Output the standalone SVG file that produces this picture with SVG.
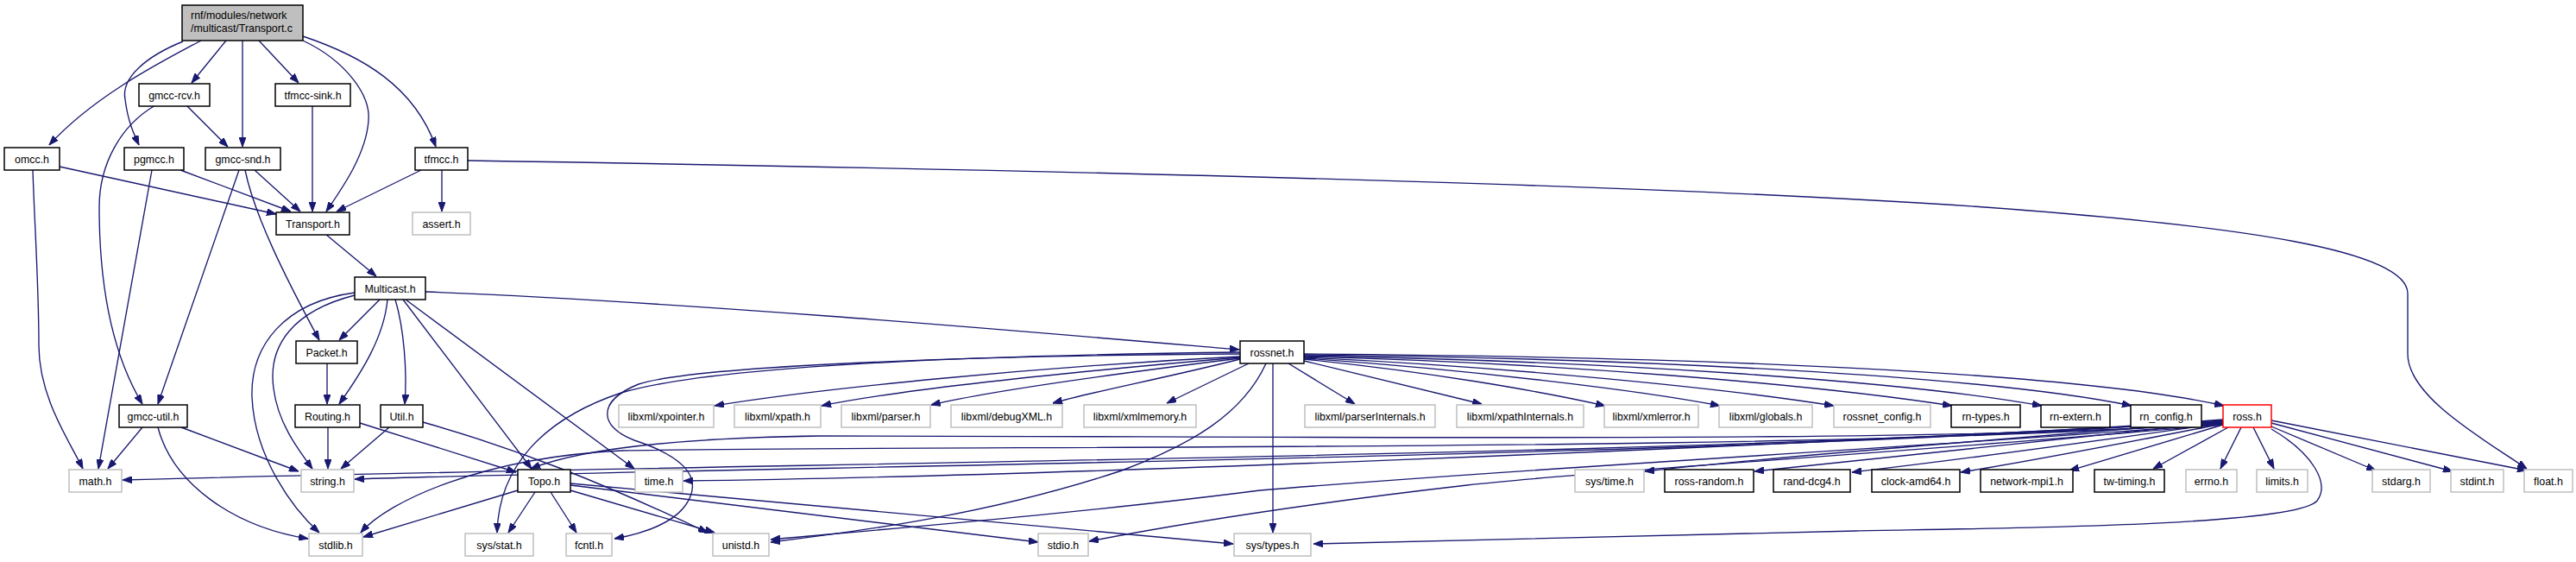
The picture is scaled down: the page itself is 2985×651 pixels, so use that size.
<svg xmlns="http://www.w3.org/2000/svg" width="2985" height="651" viewBox="0 0 2985 651">
<defs>
<marker id="ah" markerUnits="userSpaceOnUse" markerWidth="11" markerHeight="8" viewBox="0 0 11 8" refX="11" refY="4" orient="auto">
<path d="M0,0 L11,4 L0,8 z" fill="#191970" stroke="#191970" stroke-width="1"/>
</marker>
</defs>
<style>
.n rect{fill:#ffffff;stroke:#000000;stroke-width:1.5}
.g rect{fill:#ffffff;stroke:#bfbfbf;stroke-width:1.5}
.r rect{fill:#ffffff;stroke:#ff0000;stroke-width:1.5}
.s rect{fill:#bfbfbf;stroke:#000000;stroke-width:1.5}
text{font-family:"Liberation Sans",Arial,sans-serif;font-size:12.4px;fill:#000000;text-anchor:middle}
.e path{fill:none;stroke:#191970;stroke-width:1.35;marker-end:url(#ah)}
</style>
<rect x="0" y="0" width="2985" height="651" fill="#ffffff"/>
<g class="e" id="edges">
<path d="M233,47 C190,70 110,110 57,168"/>
<path d="M212,48 C170,65 140,90 145,115 C148,140 155,155 161,168"/>
<path d="M262,47 L222,96"/>
<path d="M281,47 L281,170"/>
<path d="M300,47 L346,96"/>
<path d="M351,47 C400,70 430,110 427,140 C424,180 395,220 378,245"/>
<path d="M351,42 C420,65 480,100 505,170"/>
<path d="M216,122 L264,170"/>
<path d="M180,122 C140,145 115,190 115,240 C115,330 130,410 165,468"/>
<path d="M362,122 L362,245"/>
<path d="M69,193 L320,248"/>
<path d="M38,197 C40,260 45,330 45,400 C45,460 80,510 96,543"/>
<path d="M209,197 L337,245"/>
<path d="M176,197 L114,543"/>
<path d="M295,197 L348,245"/>
<path d="M277,197 L183,468"/>
<path d="M284,197 C295,250 330,320 370,394"/>
<path d="M488,197 L390,245"/>
<path d="M512,197 L512,245"/>
<path d="M542,186 C1100,195 1900,212 2300,240 C2600,262 2790,290 2790,340 L2790,410 C2790,460 2880,510 2928,543"/>
<path d="M377,271 L436,320"/>
<path d="M440,347 L393,394"/>
<path d="M449,347 C445,390 420,430 393,468"/>
<path d="M458,347 C468,380 472,430 469,468"/>
<path d="M411,342 C340,360 310,400 317,450 C322,490 345,520 362,543"/>
<path d="M411,339 C330,350 290,400 292,460 C295,530 340,590 370,617"/>
<path d="M467,347 L616,543"/>
<path d="M470,347 L735,543"/>
<path d="M493,338 C800,350 1200,385 1436,405"/>
<path d="M379,421 L379,468"/>
<path d="M380,495 L380,543"/>
<path d="M417,490 L598,547"/>
<path d="M451,495 L395,543"/>
<path d="M490,489 C600,520 700,560 820,617"/>
<path d="M165,495 L125,543"/>
<path d="M210,495 L346,546"/>
<path d="M183,495 C200,560 270,610 357,624"/>
<path d="M600,568 L421,622"/>
<path d="M620,570 L589,617"/>
<path d="M638,570 L668,617"/>
<path d="M661,568 L828,617"/>
<path d="M661,562 L1203,628"/>
<path d="M661,560 L1429,630"/>
<path d="M1437,413 C1200,425 950,450 828,470"/>
<path d="M1437,414 C1250,430 1050,450 952,470"/>
<path d="M1437,415 C1300,432 1150,452 1079,469"/>
<path d="M1437,416 C1350,438 1260,455 1220,467"/>
<path d="M1447,421 L1352,467"/>
<path d="M1437,408 C1100,412 820,425 720,455 C630,485 578,540 576,617"/>
<path d="M1437,410 C1100,412 800,425 740,445 C690,465 695,495 735,510 C790,528 810,550 800,575 C790,600 760,615 712,624"/>
<path d="M1467,421 C1440,480 1380,515 1300,545 C1150,595 1000,615 893,628"/>
<path d="M1475,421 L1475,617"/>
<path d="M1493,421 L1570,468"/>
<path d="M1511,418 L1717,468"/>
<path d="M1511,416 C1650,430 1780,452 1860,470"/>
<path d="M1511,415 C1700,428 1900,452 1993,470"/>
<path d="M1511,414 C1750,425 2000,450 2125,470"/>
<path d="M1511,413 C1800,420 2100,445 2262,470"/>
<path d="M1511,412 C1850,418 2200,440 2366,470"/>
<path d="M1511,411 C1900,415 2300,435 2470,470"/>
<path d="M1511,410 C1950,413 2400,430 2577,470"/>
<path d="M2632,487 L2928,545"/>
<path d="M2632,490 L2842,546"/>
<path d="M2632,494 L2753,545"/>
<path d="M2611,495 L2635,543"/>
<path d="M2597,495 L2573,543"/>
<path d="M2582,495 L2495,543"/>
<path d="M2576,492 C2500,515 2450,530 2398,545"/>
<path d="M2576,491 C2450,515 2350,535 2272,547"/>
<path d="M2576,490 C2400,515 2250,535 2146,547"/>
<path d="M2576,489 C2350,512 2150,533 2033,546"/>
<path d="M2576,488 C2300,510 2050,530 1906,546"/>
<path d="M2576,488 C2000,520 1200,552 792,557"/>
<path d="M2576,487 C2000,530 900,540 411,555"/>
<path d="M2576,486 C2000,530 900,535 142,556"/>
<path d="M2576,489 C2300,515 1500,505 950,505 C750,508 660,525 615,543"/>
<path d="M2576,490 C2100,525 1100,515 720,522 C560,530 450,580 418,617"/>
<path d="M2576,491 C2200,520 1800,540 1460,568 C1250,595 1000,615 893,625"/>
<path d="M2576,492 C2200,525 1850,545 1700,562 C1500,585 1350,610 1262,627"/>
<path d="M2632,497 C2680,525 2700,560 2685,580 C2660,610 2300,612 2150,615 C1900,620 1700,625 1522,630"/>
</g>
<g id="n_transport_c" class="s"><rect x="211" y="6" width="140" height="41"/><text x="221" y="22" style="text-anchor:start">rnf/modules/network</text><text x="221" y="37" style="text-anchor:start">/multicast/Transport.c</text></g>
<g id="n_gmcc_rcv" class="n"><rect x="161" y="97" width="82" height="26"/><text x="202" y="114.5">gmcc-rcv.h</text></g>
<g id="n_tfmcc_sink" class="n"><rect x="319" y="97" width="87" height="26"/><text x="362.5" y="114.5">tfmcc-sink.h</text></g>
<g id="n_omcc" class="n"><rect x="5" y="171" width="64" height="26"/><text x="37" y="188.5">omcc.h</text></g>
<g id="n_pgmcc" class="n"><rect x="144" y="171" width="69" height="26"/><text x="178.5" y="188.5">pgmcc.h</text></g>
<g id="n_gmcc_snd" class="n"><rect x="238" y="171" width="87" height="26"/><text x="281.5" y="188.5">gmcc-snd.h</text></g>
<g id="n_tfmcc" class="n"><rect x="481" y="171" width="61" height="26"/><text x="511.5" y="188.5">tfmcc.h</text></g>
<g id="n_transport_h" class="n"><rect x="320" y="246" width="85" height="26"/><text x="362.5" y="263.5">Transport.h</text></g>
<g id="n_assert" class="g"><rect x="478" y="246" width="67" height="26"/><text x="511.5" y="263.5">assert.h</text></g>
<g id="n_multicast" class="n"><rect x="411" y="321" width="82" height="26"/><text x="452" y="338.5">Multicast.h</text></g>
<g id="n_packet" class="n"><rect x="343" y="395" width="71" height="26"/><text x="378.5" y="412.5">Packet.h</text></g>
<g id="n_rossnet" class="n"><rect x="1437" y="395" width="74" height="26"/><text x="1474" y="412.5">rossnet.h</text></g>
<g id="n_gmcc_util" class="n"><rect x="138" y="469" width="79" height="26"/><text x="177.5" y="486.5">gmcc-util.h</text></g>
<g id="n_routing" class="n"><rect x="342" y="469" width="75" height="26"/><text x="379.5" y="486.5">Routing.h</text></g>
<g id="n_util" class="n"><rect x="441" y="469" width="49" height="26"/><text x="465.5" y="486.5">Util.h</text></g>
<g id="n_xpointer" class="g"><rect x="717" y="469" width="110" height="26"/><text x="772" y="486.5">libxml/xpointer.h</text></g>
<g id="n_xpath" class="g"><rect x="851" y="469" width="100" height="26"/><text x="901" y="486.5">libxml/xpath.h</text></g>
<g id="n_parser" class="g"><rect x="975" y="469" width="103" height="26"/><text x="1026.5" y="486.5">libxml/parser.h</text></g>
<g id="n_debugxml" class="g"><rect x="1102" y="469" width="129" height="26"/><text x="1166.5" y="486.5">libxml/debugXML.h</text></g>
<g id="n_xmlmemory" class="g"><rect x="1256" y="469" width="130" height="26"/><text x="1321" y="486.5">libxml/xmlmemory.h</text></g>
<g id="n_parserinternals" class="g"><rect x="1512" y="469" width="151" height="26"/><text x="1587.5" y="486.5">libxml/parserInternals.h</text></g>
<g id="n_xpathinternals" class="g"><rect x="1688" y="469" width="147" height="26"/><text x="1761.5" y="486.5">libxml/xpathInternals.h</text></g>
<g id="n_xmlerror" class="g"><rect x="1859" y="469" width="109" height="26"/><text x="1913.5" y="486.5">libxml/xmlerror.h</text></g>
<g id="n_globals" class="g"><rect x="1992" y="469" width="108" height="26"/><text x="2046" y="486.5">libxml/globals.h</text></g>
<g id="n_rossnet_config" class="g"><rect x="2125" y="469" width="112" height="26"/><text x="2181" y="486.5">rossnet_config.h</text></g>
<g id="n_rn_types" class="n"><rect x="2261" y="469" width="80" height="26"/><text x="2301" y="486.5">rn-types.h</text></g>
<g id="n_rn_extern" class="n"><rect x="2365" y="469" width="80" height="26"/><text x="2405" y="486.5">rn-extern.h</text></g>
<g id="n_rn_config" class="n"><rect x="2469" y="469" width="82" height="26"/><text x="2510" y="486.5">rn_config.h</text></g>
<g id="n_ross" class="r"><rect x="2576" y="469" width="56" height="26"/><text x="2604" y="486.5">ross.h</text></g>
<g id="n_math" class="g"><rect x="80" y="544" width="61" height="26"/><text x="110.5" y="561.5">math.h</text></g>
<g id="n_string" class="g"><rect x="349" y="544" width="61" height="26"/><text x="379.5" y="561.5">string.h</text></g>
<g id="n_topo" class="n"><rect x="600" y="544" width="61" height="26"/><text x="630.5" y="561.5">Topo.h</text></g>
<g id="n_time" class="g"><rect x="736" y="544" width="55" height="26"/><text x="763.5" y="561.5">time.h</text></g>
<g id="n_sys_time" class="g"><rect x="1825" y="544" width="80" height="26"/><text x="1865" y="561.5">sys/time.h</text></g>
<g id="n_ross_random" class="n"><rect x="1929" y="544" width="103" height="26"/><text x="1980.5" y="561.5">ross-random.h</text></g>
<g id="n_rand_dcg4" class="n"><rect x="2055" y="544" width="89" height="26"/><text x="2099.5" y="561.5">rand-dcg4.h</text></g>
<g id="n_clock_amd64" class="n"><rect x="2169" y="544" width="102" height="26"/><text x="2220" y="561.5">clock-amd64.h</text></g>
<g id="n_network_mpi1" class="n"><rect x="2295" y="544" width="107" height="26"/><text x="2348.5" y="561.5">network-mpi1.h</text></g>
<g id="n_tw_timing" class="n"><rect x="2427" y="544" width="81" height="26"/><text x="2467.5" y="561.5">tw-timing.h</text></g>
<g id="n_errno" class="g"><rect x="2533" y="544" width="59" height="26"/><text x="2562.5" y="561.5">errno.h</text></g>
<g id="n_limits" class="g"><rect x="2615" y="544" width="59" height="26"/><text x="2644.5" y="561.5">limits.h</text></g>
<g id="n_stdarg" class="g"><rect x="2749" y="544" width="67" height="26"/><text x="2782.5" y="561.5">stdarg.h</text></g>
<g id="n_stdint" class="g"><rect x="2840" y="544" width="61" height="26"/><text x="2870.5" y="561.5">stdint.h</text></g>
<g id="n_float" class="g"><rect x="2925" y="544" width="56" height="26"/><text x="2953" y="561.5">float.h</text></g>
<g id="n_stdlib" class="g"><rect x="358" y="618" width="62" height="26"/><text x="389" y="635.5">stdlib.h</text></g>
<g id="n_sys_stat" class="g"><rect x="539" y="618" width="79" height="26"/><text x="578.5" y="635.5">sys/stat.h</text></g>
<g id="n_fcntl" class="g"><rect x="656" y="618" width="53" height="26"/><text x="682.5" y="635.5">fcntl.h</text></g>
<g id="n_unistd" class="g"><rect x="826" y="618" width="65" height="26"/><text x="858.5" y="635.5">unistd.h</text></g>
<g id="n_stdio" class="g"><rect x="1203" y="618" width="58" height="26"/><text x="1232" y="635.5">stdio.h</text></g>
<g id="n_sys_types" class="g"><rect x="1430" y="618" width="89" height="26"/><text x="1474.5" y="635.5">sys/types.h</text></g>
</svg>
